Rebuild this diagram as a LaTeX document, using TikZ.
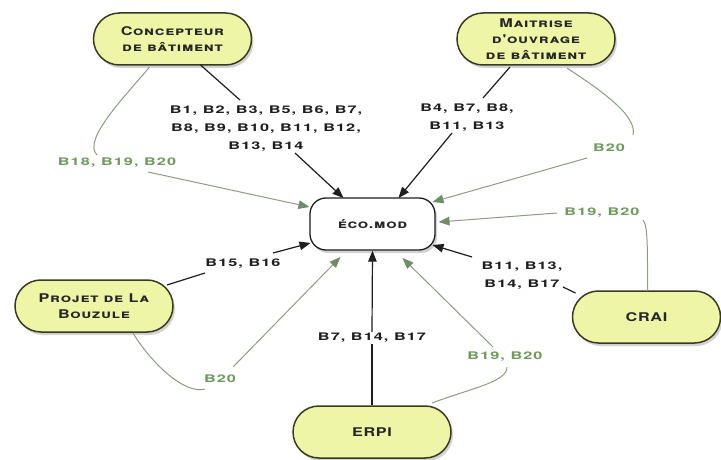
\documentclass[tikz,border=0pt]{standalone}
\usepackage{fontspec}
\setmainfont{TeX Gyre Heros}
\newfontfamily\cpf[FakeStretch=1.35,LetterSpace=6]{TeX Gyre Heros}
\newfontfamily\lbf[FakeStretch=1.55,LetterSpace=10]{TeX Gyre Heros}
\usetikzlibrary{shadows,arrows.meta}
\definecolor{nodefill}{HTML}{EEF5A6}
\definecolor{nodeborder}{HTML}{3A3A22}
\definecolor{grtext}{HTML}{6E9A5C}
\definecolor{grline}{HTML}{8C9C86}
\definecolor{grarrowc}{HTML}{6E8E64}
\definecolor{blk}{HTML}{1E1E1E}
\tikzset{
  actor/.style={draw=nodeborder, line width=1.5pt, fill=nodefill, rounded corners=26pt,
    minimum width=158pt, minimum height=52pt, align=center, inner sep=0pt,
    font=\cpf\bfseries\scshape\fontsize{12}{16}\selectfont, text=black!85,
    drop shadow={shadow xshift=2pt, shadow yshift=-3pt, opacity=0.35}},
  hub/.style={draw=blk, line width=1.3pt, fill=white, rounded corners=16pt,
    minimum width=125pt, minimum height=52pt, align=center, inner sep=0pt,
    font=\cpf\bfseries\scshape\fontsize{12}{16}\selectfont, text=black!85,
    drop shadow={shadow xshift=2pt, shadow yshift=-3pt, opacity=0.35}},
  lbl/.style={align=center, inner sep=1pt, font=\lbf\bfseries\fontsize{10.5}{18}\selectfont, text=blk},
  glbl/.style={lbl, text=grtext},
  bconn/.style={draw=blk, line width=1.2pt},
  barrow/.style={bconn, -{Triangle[length=11pt,width=8.5pt]}},
  gconn/.style={draw=grline, line width=1pt},
  garrow/.style={gconn, -{Triangle[length=11pt,width=8.5pt,fill=grarrowc,color=grarrowc]}},
}
\begin{document}
\begin{tikzpicture}[x=1pt,y=-1pt]
\fill[white] (0,0) rectangle (721,460);
\useasboundingbox (0,0) rectangle (721,460);

% nodes
\node[actor] (conc) at (172.5,39) {Concepteur\\de bâtiment};
\node[actor] (maitr) at (536,39) {Maitrise\\d'ouvrage\\de bâtiment};
\node[hub] (eco) at (372.5,224) {éco.mod};
\node[actor] (bouz) at (94,306) {Projet de La\\Bouzule};
\node[actor] (erpi) at (372,432) {ERPI};
\node[actor, minimum width=148pt] (crai) at (646.5,317) {CRAI};

% labels
\node[lbl] (l1) at (266,129) {B1, B2, B3, B5, B6, B7,\\B8, B9, B10, B11, B12,\\B13, B14};
\node[lbl] (l2) at (467,118) {B4, B7, B8,\\B11, B13};
\node[lbl] (l3) at (243,264) {B15, B16};
\node[lbl] (l4) at (522,276) {B11, B13,\\B14, B17};
\node[lbl] (l5) at (372,338) {B7, B14, B17};
\node[glbl] (g1) at (117,163) {B18, B19, B20};
\node[glbl] (g2) at (609,148) {B20};
\node[glbl] (g3) at (602,213) {B19, B20};
\node[glbl] (g4) at (220,379) {B20};
\node[glbl] (g5) at (505,357) {B19, B20};

% black connectors
\draw[bconn] ([shift={(28,26)}]conc.center) -- ([shift={(-26,-29)}]l1.center);
\draw[barrow] ([shift={(29,24)}]l1.center) -- ([shift={(-29,-26)}]eco.center);
\draw[bconn] ([shift={(-26,28)}]maitr.center) -- ([shift={(16,-20)}]l2.center);
\draw[barrow] ([shift={(-15,15)}]l2.center) -- ([shift={(26,-26)}]eco.center);
\draw[bconn] ([shift={(-71,-24)}]crai.center) -- ([shift={(41,11)}]l4.center);
\draw[barrow] ([shift={(-50,-19)}]l4.center) -- ([shift={(60,21)}]eco.center);
\draw[bconn] (erpi.north) -- (l5.south);
\draw[barrow] (l5.north) -- (eco.south);
\draw[bconn] ([shift={(73,-21)}]bouz.center) -- ([shift={(-38,9)}]l3.center);
\draw[barrow] ([shift={(30,-11)}]l3.center) -- ([shift={(-62,19)}]eco.center);

% green connectors
\draw[gconn] ([shift={(-23,28)}]conc.center) .. controls +(-25,30) and +(-15,-15) .. ([shift={(-20,-8)}]g1.center);
\draw[garrow] ([shift={(31,9)}]g1.center) -- ([shift={(-63,-17)}]eco.center);
\draw[gconn] ([shift={(31,29)}]maitr.center) .. controls +(30,20) and +(5,-20) .. ([shift={(24,-13)}]g2.center);
\draw[garrow] ([shift={(-22,10)}]g2.center) -- ([shift={(60,-22)}]eco.center);
\draw[gconn] ([shift={(1,-26)}]crai.center) .. controls +(0,-40) and +(5,5) .. ([shift={(41,7)}]g3.center);
\draw[garrow] ([shift={(-45,0)}]g3.center) -- ([shift={(66,-2)}]eco.center);
\draw[gconn] ([shift={(60,-29)}]erpi.center) .. controls +(40,-15) and +(0,15) .. ([shift={(2,10)}]g5.center);
\draw[garrow] ([shift={(-12,-10)}]g5.center) -- ([shift={(30,34)}]eco.center);
\draw[gconn] ([shift={(39,27)}]bouz.center) .. controls +(18,30) and +(-20,6) .. ([shift={(-15,10)}]g4.center);
\draw[garrow] ([shift={(13,-12)}]g4.center) -- ([shift={(-32,33)}]eco.center);
\end{tikzpicture}
\end{document}
